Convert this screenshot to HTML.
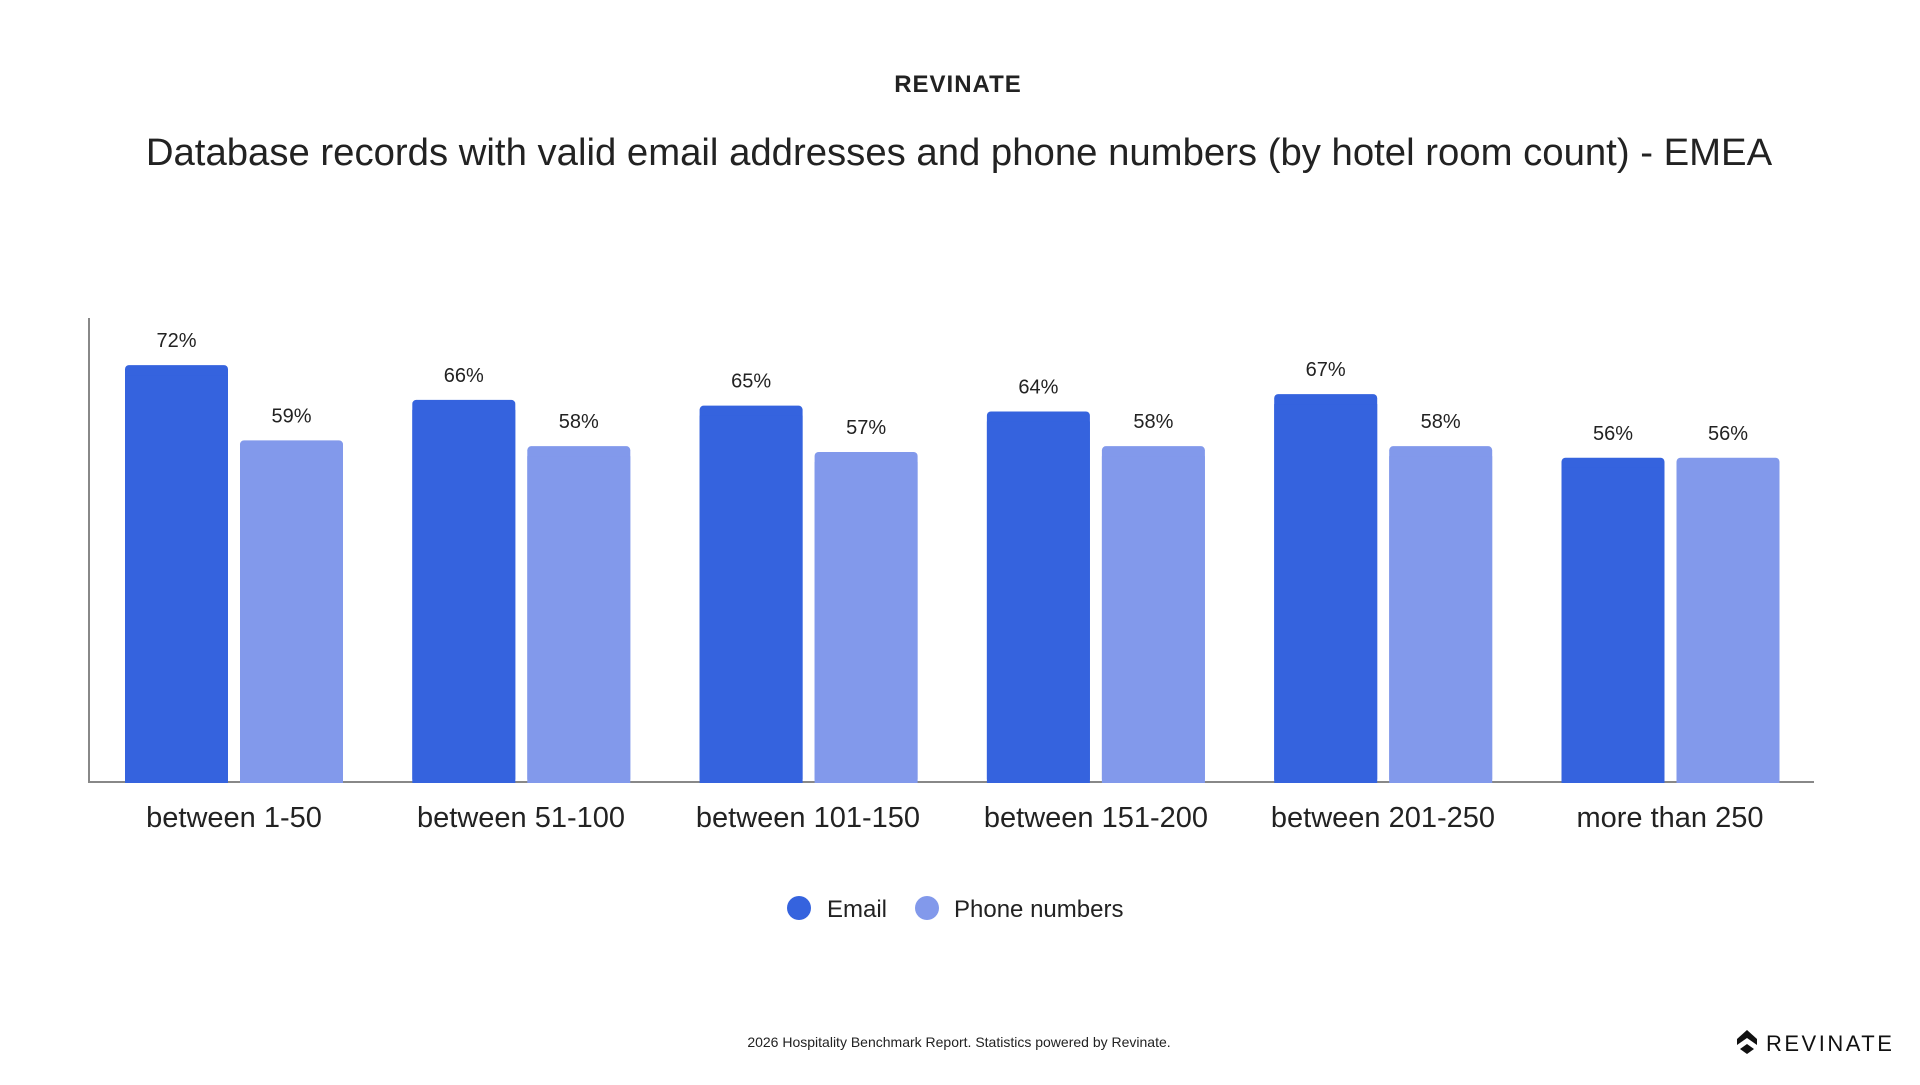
<!DOCTYPE html>
<html><head><meta charset="utf-8"><style>
body{margin:0;width:1920px;height:1080px;background:#fff;font-family:"Liberation Sans",sans-serif;overflow:hidden}
</style></head><body>
<svg width="1920" height="1080" xmlns="http://www.w3.org/2000/svg" font-family="Liberation Sans, sans-serif">
<text x="958" y="92" text-anchor="middle" font-size="24" font-weight="bold" fill="#222" letter-spacing="1">REVINATE</text>
<text x="959" y="165" text-anchor="middle" font-size="38.3" fill="#222">Database records with valid email addresses and phone numbers (by hotel room count) - EMEA</text>
<line x1="89" y1="318" x2="89" y2="782" stroke="#888" stroke-width="2"/>
<line x1="88" y1="782" x2="1814" y2="782" stroke="#888" stroke-width="2"/>
<g font-size="29" fill="#222" text-anchor="middle">
<text x="234" y="827">between 1-50</text>
<text x="521" y="827">between 51-100</text>
<text x="808" y="827">between 101-150</text>
<text x="1096" y="827">between 151-200</text>
<text x="1383" y="827">between 201-250</text>
<text x="1670" y="827">more than 250</text>
</g>
<circle cx="799" cy="908" r="12" fill="#3563DE"/>
<text x="827" y="917" font-size="24" fill="#222">Email</text>
<circle cx="927" cy="908" r="12" fill="#8299EB"/>
<text x="954" y="917" font-size="24" fill="#222">Phone numbers</text>
<text x="959" y="1047" text-anchor="middle" font-size="14" fill="#222">2026 Hospitality Benchmark Report. Statistics powered by Revinate.</text>
<path d="M1737 1039 l10 -9 l10 9 v6 l-10 -7 l-10 7z M1740 1049 l7 -5 l7 5 l-7 5z" fill="#111"/>
<text x="1766" y="1051" font-size="22" fill="#111" letter-spacing="2.5">REVINATE</text>
<g id="b"></g>
</svg>
<script>
var e=[72,66,65,64,67,56],p=[59,58,57,58,58,56],g=document.getElementById('b'),s='';
for(var i=0;i<6;i++){var x=125+287.3*i;
[[e[i],x,'#3563DE'],[p[i],x+115,'#8299EB']].forEach(function(d){var h=d[0]*5.79,t=782-h;
s+='<rect x="'+d[1]+'" y="'+t+'" width="103" height="'+(h+1)+'" rx="4" fill="'+d[2]+'"/><rect x="'+d[1]+'" y="'+(t+10)+'" width="103" height="'+(h-9)+'" fill="'+d[2]+'"/>';
s+='<text x="'+(d[1]+51.5)+'" y="'+(t-18)+'" text-anchor="middle" font-size="20" fill="#222">'+d[0]+'%</text>';});}
g.innerHTML=s;
</script>
</body></html>
